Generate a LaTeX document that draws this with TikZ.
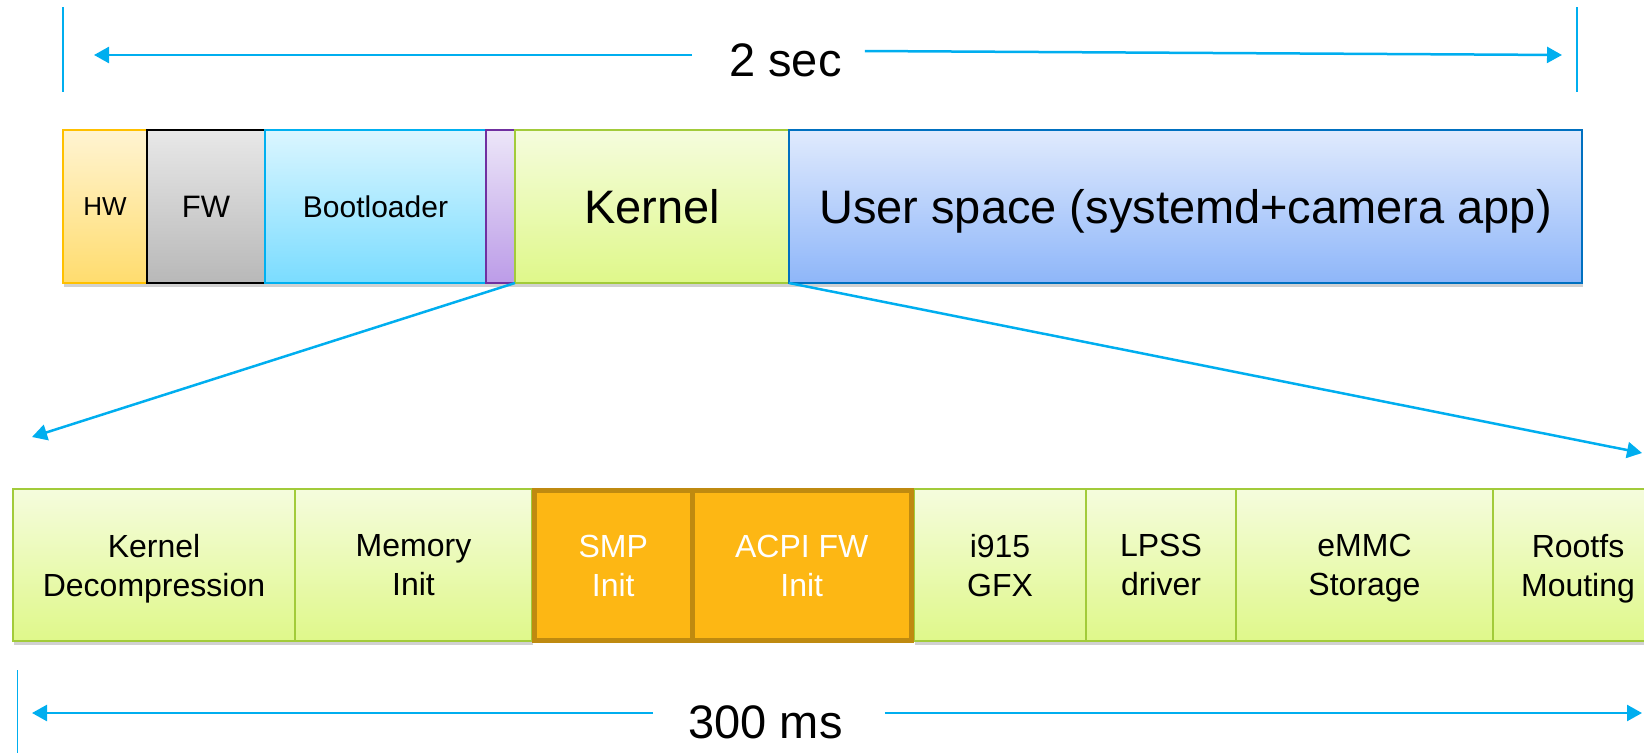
\documentclass[tikz,border=0pt]{standalone}
\usepackage{fontspec}
\setmainfont{Liberation Sans}
\usetikzlibrary{arrows.meta,shadows,calc}
\definecolor{cyanline}{HTML}{00AEEF}
\definecolor{hwB}{HTML}{FFC000}
\definecolor{hwT}{HTML}{FFF4D2}
\definecolor{hwD}{HTML}{FFDC6E}
\definecolor{fwT}{HTML}{E8E8E8}
\definecolor{fwD}{HTML}{B8B8B8}
\definecolor{blB}{HTML}{00B0F0}
\definecolor{blT}{HTML}{DBF6FF}
\definecolor{blD}{HTML}{7ADCFF}
\definecolor{puB}{HTML}{7030A0}
\definecolor{puT}{HTML}{ECE6F8}
\definecolor{puD}{HTML}{BC9CE8}
\definecolor{grB}{HTML}{A2CB3A}
\definecolor{grT}{HTML}{F5FCDD}
\definecolor{grD}{HTML}{DFF88A}
\definecolor{usB}{HTML}{0070C0}
\definecolor{usT}{HTML}{E0EAFD}
\definecolor{usD}{HTML}{8EB6F9}
\definecolor{orB}{HTML}{BF8A10}
\definecolor{orF}{HTML}{FDB714}
\newcommand\szHW{\fontsize{26}{30}\selectfont}
\newcommand\szFW{\fontsize{31}{36}\selectfont}
\newcommand\szBL{\fontsize{30}{35}\selectfont}
\newcommand\szBig{\fontsize{47}{52}\selectfont}
\newcommand\szBot{\fontsize{32}{39}\selectfont}
\begin{document}
\begin{tikzpicture}[x=1pt,y=-1pt,
  bar/.style={rectangle, line width=2pt, inner sep=0pt, outer sep=0pt, anchor=north west,
    minimum height=153pt, text depth=0pt,
    drop shadow={shadow xshift=1pt, shadow yshift=-4pt, opacity=0.18, fill=black}},
  gbox/.style={rectangle, line width=2pt, inner sep=0pt, outer sep=0pt, anchor=north west,
    minimum height=152pt, draw=grB, top color=grT, bottom color=grD, align=center, font=\szBot,
    text depth=0pt,
    drop shadow={shadow xshift=1pt, shadow yshift=-4pt, opacity=0.18, fill=black}},
  obox/.style={rectangle, line width=5pt, inner sep=0pt, outer sep=0pt, anchor=north west,
    minimum height=150pt, draw=orB, fill=orF, text=white, align=center, font=\szBot, text depth=0pt},
  conn/.style={draw=cyanline, line width=2.5pt, -{Triangle[length=15pt,width=16pt]}},
  tickline/.style={draw=cyanline, line width=1.5pt},
  dimlabel/.style={inner sep=0pt, font=\szBig}
]
\useasboundingbox (0,0) rectangle (1644,753);
\clip (0,0) rectangle (1644,753);

% top bar
\node[bar, draw=hwB, top color=hwT, bottom color=hwD, minimum width=84pt, font=\szHW] (hw) at (63,130) {HW};
\node[bar, draw=black, top color=fwT, bottom color=fwD, minimum width=118pt, font=\szFW] (fw) at (147,130) {FW};
\node[bar, draw=blB, top color=blT, bottom color=blD, minimum width=221pt, font=\szBL] (boot) at (265,130) {Bootloader};
\node[bar, draw=puB, top color=puT, bottom color=puD, minimum width=29pt] (pu) at (486,130) {};
\node[bar, draw=grB, top color=grT, bottom color=grD, minimum width=274pt, font=\szBig] (kernel) at (515,130) {Kernel};
\node[bar, draw=usB, top color=usT, bottom color=usD, minimum width=793pt, font=\szBig] (user) at (789,130) {User space (systemd+camera app)};

% bottom bar
\node[gbox, minimum width=282pt] (kd) at (13,489) {Kernel\\Decompression};
\node[gbox, minimum width=237pt] (mi) at (295,489) {Memory\\Init};
\node[gbox, minimum width=172pt] (gfx) at (914,489) {i915\\GFX};
\node[gbox, minimum width=150pt] (lpss) at (1086,489) {LPSS\\driver};
\node[gbox, minimum width=257pt] (emmc) at (1236,489) {eMMC\\Storage};
\node[gbox, minimum width=170pt] (rootfs) at (1493,489) {Rootfs\\Mouting};
\node[obox, minimum width=157.5pt] (smp) at (534.5,490.5) {SMP\\Init};
\node[obox, minimum width=219.5pt] (acpi) at (692,490.5) {ACPI FW\\Init};

% zoom connectors
\coordinate (dl) at (32,437);
\coordinate (dr) at (1642,453);
\draw[conn] (kernel.south west) -- (dl);
\draw[conn] (kernel.south east) -- (dr);

% 2 sec dimension
\draw[tickline] (63,7) coordinate (t1a) -- (63,92) coordinate (t1b);
\draw[tickline] (1577,7) coordinate (t2a) -- (1577,92) coordinate (t2b);
\node[dimlabel] (twosec) at (785.5,60) {2 sec};
\coordinate (tl) at (94,55);
\coordinate (tr) at (1562,55);
\draw[conn] ($(twosec.west |- tl)+(-37,0)$) -- (tl);
\draw[conn] ($(twosec.east |- tr)+(23,-4)$) -- (tr);

% 300 ms dimension
\draw[tickline] (17.5,670) coordinate (t3a) -- (17.5,753) coordinate (t3b);
\node[dimlabel] (ms) at (765.5,722) {300 ms};
\coordinate (bl) at (32,713);
\coordinate (br) at (1642,713);
\draw[conn] ($(ms.west |- bl)+(-35,0)$) -- (bl);
\draw[conn] ($(ms.east |- br)+(42,0)$) -- (br);
\end{tikzpicture}
\end{document}
